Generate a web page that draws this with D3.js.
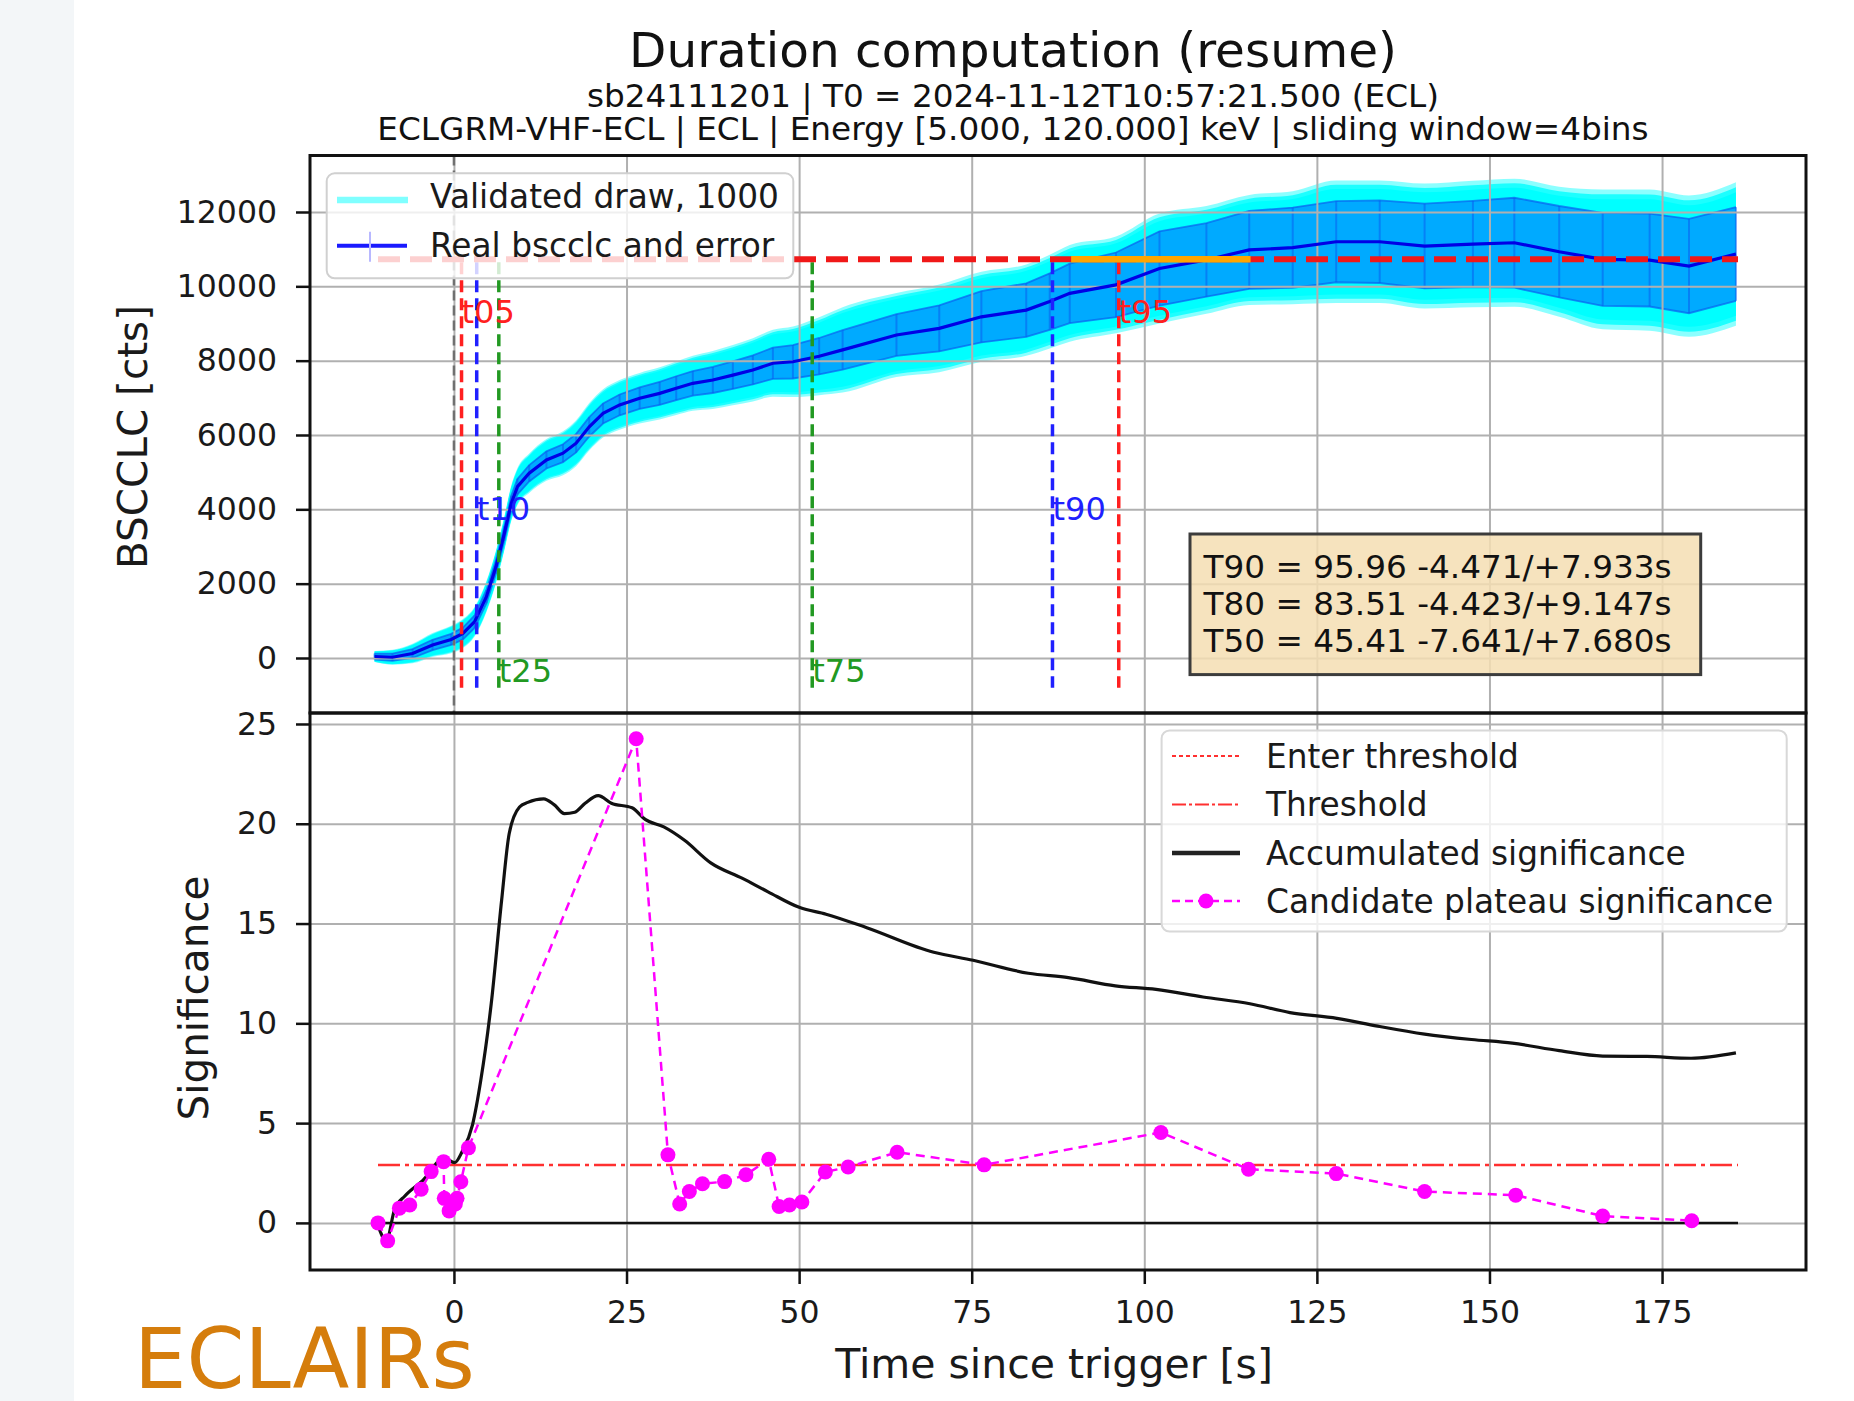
<!DOCTYPE html>
<html><head><meta charset="utf-8">
<script src="https://cdn.jsdelivr.net/npm/d3@7"></script>
<style>body{margin:0;background:#fff;} svg{display:block;} text{font-family:"DejaVu Sans",sans-serif;}</style>
</head><body><svg id="c" width="1854" height="1401"></svg>
<script>
// ---------------- DATA ----------------
const titleText = "Duration computation (resume)";
const subtitleLines = ["sb24111201 | T0 = 2024-11-12T10:57:21.500 (ECL)",
  "ECLGRM-VHF-ECL | ECL | Energy [5.000, 120.000] keV | sliding window=4bins"];
const xTicks = [0, 25, 50, 75, 100, 125, 150, 175];
const yTicksTop = [0, 2000, 4000, 6000, 8000, 10000, 12000];
const yTicksBottom = [0, 5, 10, 15, 20, 25];

// cumulative light curve (real bscclc), its error and spread of validated draws
const lcTime = [-11.5,-8.9,-6.0,-3.1,-0.4,1.3,3.0,4.7,6.1,7.3,8.3,9.2,10.9,13.4,15.8,17.7,19.6,21.6,24.0,26.9,
  29.8,32.2,34.6,37.5,40.4,43.3,46.2,49.1,52.9,56.3,64.1,70.3,76.4,82.9,86.3,89.2,95.9,102.2,109.0,115.2,
  121.5,127.8,134.1,140.6,147.6,153.6,160.1,166.4,173.2,178.9,185.7];
const lcCounts = [40,20,120,350,500,660,980,1650,2460,3350,4160,4610,4970,5330,5510,5780,6220,6580,6810,6990,
  7120,7260,7390,7480,7610,7750,7930,7970,8120,8290,8690,8870,9180,9360,9590,9810,10040,10480,10710,10980,
  11040,11200,11200,11084,11138,11173,10931,10726,10707,10546,10869];
const lcErr = [80,100,120,140,150,160,170,180,190,200,205,210,220,230,240,250,260,270,280,290,
  310,320,330,350,370,390,420,450,490,530,560,620,690,720,760,800,870,1000,990,1050,
  1080,1090,1110,1140,1160,1210,1230,1250,1250,1270,1260];
const drawSpread = [150,200,260,320,370,390,400,420,440,460,480,500,530,560,590,620,640,650,670,680,
  700,720,740,780,810,850,900,950,1050,1150,1130,1180,1210,1230,1260,1300,1300,1480,1450,1480,
  1520,1650,1650,1680,1700,1720,1750,1880,1900,1900,1930];

const plateauLevel = 10730;
const plateauRange = [89.4, 115.4];
const tNames = ["t05","t10","t25","t75","t90","t95"];
const tValues = [1.1, 3.3, 6.5, 51.9, 86.7, 96.3];
const tColors = ["#ff2020","#2020ff","#229922","#229922","#2020ff","#ff2020"];
const tLabelLevels = [9000, 3700, -640, -640, 3700, 9000];
const statLines = ["T90 = 95.96 -4.471/+7.933s","T80 = 83.51 -4.423/+9.147s","T50 = 45.41 -7.641/+7.680s"];

// accumulated significance
const sigTime = [-10.9,-9.8,-8.6,-7.1,-4.5,-1.4,0.1,1.2,2.7,3.9,5.4,6.9,8.0,9.5,10.7,13.0,14.5,16.0,17.5,19.0,
  20.9,22.8,25.8,27.7,30.4,33.4,37.2,41.8,45.5,50.1,53.9,59.8,69.5,75.2,83.2,89.0,95.8,101.7,108.5,115.3,
  121.1,127.9,133.8,140.6,147.4,153.3,160.1,166.4,172.8,179.2,185.7];
const sigValue = [-0.23,-0.9,0.67,1.35,2.13,3.25,3.02,3.58,4.93,7.17,10.98,16.14,19.5,20.84,21.07,21.25,20.96,20.51,20.58,21.03,
  21.41,21.03,20.8,20.22,19.84,19.17,18.04,17.26,16.59,15.8,15.47,14.79,13.56,13.16,12.51,12.29,11.88,11.7,11.32,10.98,
  10.54,10.25,9.86,9.46,9.19,9.01,8.63,8.36,8.34,8.25,8.52];
// candidate plateau significance
const candTime = [-11.0,-9.6,-7.9,-6.4,-4.75,-3.3,-1.5,-1.4,-0.7,0.2,0.45,1.0,2.1,26.4,31.0,32.7,34.1,36.0,39.2,42.3,
  45.6,47.1,48.6,50.4,53.8,57.1,64.2,76.8,102.4,115.1,127.8,140.6,153.8,166.4,179.3];
const candValue = [0.0,-0.9,0.74,0.9,1.69,2.57,3.07,1.23,0.6,0.95,1.23,2.06,3.76,24.26,3.41,0.95,1.57,1.96,2.07,2.41,
  3.19,0.82,0.9,1.05,2.55,2.8,3.54,2.91,4.53,2.69,2.47,1.57,1.39,0.34,0.11];
const thresholdLevel = 2.9;
const dataRange = [-11.0, 186.0];

const legendTop = ["Validated draw, 1000", "Real bscclc and error"];
const legendBottom = ["Enter threshold", "Threshold", "Accumulated significance", "Candidate plateau significance"];

// ---------------- LAYOUT ----------------
const W = 1854, H = 1401;
const L = 310, R = 1806, T1 = 155.5, B1 = 713, T2 = 713, B2 = 1270;
const x = d3.scaleLinear().domain([-20.85, 195.85]).range([L, R]);
const y1 = d3.scaleLinear().domain([-1480, 13520]).range([B1, T1]);
const y2 = d3.scaleLinear().domain([-2.36, 25.55]).range([B2, T2]);

const svg = d3.select("#c");
svg.append("rect").attr("width", W).attr("height", H).attr("fill", "#ffffff");
svg.append("rect").attr("width", 74).attr("height", H).attr("fill", "#f3f6f8");

const defs = svg.append("defs");
defs.append("clipPath").attr("id", "clip1").append("rect").attr("x", L).attr("y", T1).attr("width", R - L).attr("height", B1 - T1);
defs.append("clipPath").attr("id", "clip2").append("rect").attr("x", L).attr("y", T2).attr("width", R - L).attr("height", B2 - T2);

// titles
svg.append("text").attr("x", 1013).attr("y", 67).attr("text-anchor", "middle").attr("font-size", 48.5).attr("fill", "#111").text(titleText);
subtitleLines.forEach((s, i) => {
  svg.append("text").attr("x", 1013).attr("y", [106.5, 140][i]).attr("text-anchor", "middle").attr("font-size", 32.7).attr("fill", "#111").text(s);
});

// ---------------- TOP PANEL ----------------
const lc = lcTime.map((t, i) => ({t, v: lcCounts[i], e: lcErr[i], s: drawSpread[i]}));
const g1 = svg.append("g").attr("clip-path", "url(#clip1)");
const areaS = k => d3.area().x(d => x(d.t)).y0(d => y1(d.v - d.s * k)).y1(d => y1(d.v + d.s * k)).curve(d3.curveMonotoneX);
g1.append("path").datum(lc).attr("d", areaS(1.0)).attr("fill", "#00ffff").attr("opacity", 0.45);
g1.append("path").datum(lc).attr("d", areaS(0.93)).attr("fill", "#00ffff").attr("opacity", 0.8);
g1.append("path").datum(lc).attr("d", areaS(0.86)).attr("fill", "#00ffff");
g1.append("path").datum(lc).attr("d", d3.area().x(d => x(d.t)).y0(d => y1(d.v - d.e)).y1(d => y1(d.v + d.e)))
  .attr("fill", "#00aaff");
[1, -1].forEach(sg => {
  g1.append("path").datum(lc).attr("d", d3.line().x(d => x(d.t)).y(d => y1(d.v + sg * d.e)))
    .attr("fill", "none").attr("stroke", "#0a5ff0").attr("stroke-width", 1.8).attr("opacity", 0.7);
});
g1.selectAll("line.eb").data(lc).join("line").attr("class", "eb")
  .attr("x1", d => x(d.t)).attr("x2", d => x(d.t)).attr("y1", d => y1(d.v - d.e)).attr("y2", d => y1(d.v + d.e))
  .attr("stroke", "#0a5ff0").attr("stroke-width", 2).attr("opacity", 0.55);

// grid (top)
const grid1 = svg.append("g");
grid1.append("g").attr("transform", `translate(0,${B1})`).call(d3.axisBottom(x).tickValues(xTicks).tickSize(-(B1 - T1)).tickFormat(""));
grid1.append("g").attr("transform", `translate(${L},0)`).call(d3.axisLeft(y1).tickValues(yTicksTop).tickSize(-(R - L)).tickFormat(""));
grid1.selectAll(".domain").remove();
grid1.selectAll(".tick line").attr("stroke", "#b0b0b0").attr("stroke-width", 2);

const g1b = svg.append("g").attr("clip-path", "url(#clip1)");
// grey trigger line
g1b.append("line").attr("x1", x(0)).attr("x2", x(0)).attr("y1", T1).attr("y2", B1)
  .attr("stroke", "#707070").attr("stroke-width", 2.5).attr("stroke-dasharray", "10,5");
// blue real curve
g1b.append("path").datum(lc).attr("d", d3.line().x(d => x(d.t)).y(d => y1(d.v)))
  .attr("fill", "none").attr("stroke", "#0000e6").attr("stroke-width", 3.2);
// vertical t lines
tValues.forEach((tv, i) => {
  g1b.append("line").attr("x1", x(tv)).attr("x2", x(tv)).attr("y1", y1(10650)).attr("y2", y1(-800))
    .attr("stroke", tColors[i]).attr("stroke-width", 3.5).attr("stroke-dasharray", "12,6");
});
// plateau level
g1b.append("line").attr("x1", x(dataRange[0])).attr("x2", x(dataRange[1])).attr("y1", y1(plateauLevel)).attr("y2", y1(plateauLevel))
  .attr("stroke", "#f01818").attr("stroke-width", 6).attr("stroke-dasharray", "22,10");
g1b.append("line").attr("x1", x(plateauRange[0])).attr("x2", x(plateauRange[1])).attr("y1", y1(plateauLevel)).attr("y2", y1(plateauLevel))
  .attr("stroke", "#ffa500").attr("stroke-width", 6.5);
// t labels
tNames.forEach((n, i) => {
  g1b.append("text").attr("x", x(tValues[i])).attr("y", y1(tLabelLevels[i])).attr("font-size", 32)
    .attr("fill", tColors[i]).text(n);
});

// legend top
const lg1 = svg.append("g");
lg1.append("rect").attr("x", 326.7).attr("y", 173.3).attr("width", 466.6).attr("height", 105).attr("rx", 8)
  .attr("fill", "#ffffff").attr("fill-opacity", 0.8).attr("stroke", "#d0d0d0").attr("stroke-width", 2);
lg1.append("line").attr("x1", 337).attr("x2", 408).attr("y1", 200).attr("y2", 200).attr("stroke", "#80ffff").attr("stroke-width", 6.5);
lg1.append("line").attr("x1", 337).attr("x2", 407).attr("y1", 245.7).attr("y2", 245.7).attr("stroke", "#1a1aff").attr("stroke-width", 4);
lg1.append("line").attr("x1", 370).attr("x2", 370).attr("y1", 231.7).attr("y2", 261.7).attr("stroke", "#b8b8ff").attr("stroke-width", 2);
legendTop.forEach((s, i) => {
  lg1.append("text").attr("x", 430).attr("y", [207.5, 256.5][i]).attr("font-size", 32.8).attr("fill", "#1a1a1a").text(s);
});

// stat box
const sb = svg.append("g");
sb.append("rect").attr("x", 1190).attr("y", 534).attr("width", 510.7).attr("height", 140.6)
  .attr("fill", "#f5deb3").attr("fill-opacity", 0.85).attr("stroke", "#3c3c3c").attr("stroke-width", 3);
statLines.forEach((s, i) => {
  sb.append("text").attr("x", 1203.5).attr("y", [578.4, 615.2, 651.5][i]).attr("font-size", 32.7).attr("fill", "#111").text(s);
});

// ---------------- BOTTOM PANEL ----------------
const grid2 = svg.append("g");
grid2.append("g").attr("transform", `translate(0,${B2})`).call(d3.axisBottom(x).tickValues(xTicks).tickSize(-(B2 - T2)).tickFormat(""));
grid2.append("g").attr("transform", `translate(${L},0)`).call(d3.axisLeft(y2).tickValues(yTicksBottom).tickSize(-(R - L)).tickFormat(""));
grid2.selectAll(".domain").remove();
grid2.selectAll(".tick line").attr("stroke", "#b0b0b0").attr("stroke-width", 2);

const g2 = svg.append("g").attr("clip-path", "url(#clip2)");
g2.append("line").attr("x1", x(dataRange[0])).attr("x2", x(dataRange[1])).attr("y1", y2(0)).attr("y2", y2(0))
  .attr("stroke", "#111").attr("stroke-width", 2.5);
g2.append("line").attr("x1", x(dataRange[0])).attr("x2", x(dataRange[1])).attr("y1", y2(thresholdLevel)).attr("y2", y2(thresholdLevel))
  .attr("stroke", "#ff3030").attr("stroke-width", 2.5).attr("stroke-dasharray", "22,5,4,5");
const sig = sigTime.map((t, i) => ({t, v: sigValue[i]}));
g2.append("path").datum(sig).attr("d", d3.line().x(d => x(d.t)).y(d => y2(d.v)).curve(d3.curveMonotoneX))
  .attr("fill", "none").attr("stroke", "#111").attr("stroke-width", 3.2);
const cand = candTime.map((t, i) => ({t, v: candValue[i]}));
g2.append("path").datum(cand).attr("d", d3.line().x(d => x(d.t)).y(d => y2(d.v)))
  .attr("fill", "none").attr("stroke", "#ff00ff").attr("stroke-width", 2.5).attr("stroke-dasharray", "9,6");
g2.selectAll("circle").data(cand).join("circle").attr("cx", d => x(d.t)).attr("cy", d => y2(d.v)).attr("r", 7.5).attr("fill", "#ff00ff");

// legend bottom
const lg2 = svg.append("g");
lg2.append("rect").attr("x", 1161.6).attr("y", 730.4).attr("width", 625.1).attr("height", 201.2).attr("rx", 8)
  .attr("fill", "#ffffff").attr("fill-opacity", 0.8).attr("stroke", "#d8d8d8").attr("stroke-width", 2);
const hy = [756, 804.5, 853, 901];
lg2.append("line").attr("x1", 1172).attr("x2", 1240).attr("y1", hy[0]).attr("y2", hy[0]).attr("stroke", "#ff3030").attr("stroke-width", 2.2).attr("stroke-dasharray", "4,3");
lg2.append("line").attr("x1", 1172).attr("x2", 1240).attr("y1", hy[1]).attr("y2", hy[1]).attr("stroke", "#ff3030").attr("stroke-width", 2.2).attr("stroke-dasharray", "14,3,3,3");
lg2.append("line").attr("x1", 1172).attr("x2", 1240).attr("y1", hy[2]).attr("y2", hy[2]).attr("stroke", "#222").attr("stroke-width", 4.5);
lg2.append("line").attr("x1", 1172).attr("x2", 1240).attr("y1", hy[3]).attr("y2", hy[3]).attr("stroke", "#ff00ff").attr("stroke-width", 2.5).attr("stroke-dasharray", "8,5");
lg2.append("circle").attr("cx", 1206).attr("cy", hy[3]).attr("r", 7.5).attr("fill", "#ff00ff");
legendBottom.forEach((s, i) => {
  lg2.append("text").attr("x", 1266).attr("y", hy[i] + 11.5).attr("font-size", 32.8).attr("fill", "#1a1a1a").text(s);
});

// ---------------- AXES ----------------
function styleAxis(g) {
  g.select(".domain").remove();
  g.selectAll(".tick line").attr("stroke", "#111").attr("stroke-width", 2.5);
  g.selectAll(".tick text").attr("font-size", 31.5).attr("fill", "#1a1a1a").attr("font-family", "DejaVu Sans");
}
svg.append("g").attr("transform", `translate(${L},0)`).call(d3.axisLeft(y1).tickValues(yTicksTop).tickSize(14).tickPadding(19).tickFormat(d3.format("d"))).call(styleAxis);
svg.append("g").attr("transform", `translate(${L},0)`).call(d3.axisLeft(y2).tickValues(yTicksBottom).tickSize(14).tickPadding(19).tickFormat(d3.format("d"))).call(styleAxis);
svg.append("g").attr("transform", `translate(0,${B2})`).call(d3.axisBottom(x).tickValues(xTicks).tickSize(14).tickPadding(17).tickFormat(d3.format("d"))).call(styleAxis);

// spines
[[T1, B1], [T2, B2]].forEach(([a, b]) => {
  svg.append("rect").attr("x", L).attr("y", a).attr("width", R - L).attr("height", b - a)
    .attr("fill", "none").attr("stroke", "#111").attr("stroke-width", 3);
});

// axis labels
svg.append("text").attr("transform", "translate(146.5,437) rotate(-90)").attr("text-anchor", "middle").attr("font-size", 40.5).attr("fill", "#1a1a1a").text("BSCCLC [cts]");
svg.append("text").attr("transform", "translate(207.5,998) rotate(-90)").attr("text-anchor", "middle").attr("font-size", 40.5).attr("fill", "#1a1a1a").text("Significance");
svg.append("text").attr("x", 1054).attr("y", 1378).attr("text-anchor", "middle").attr("font-size", 41).attr("fill", "#1a1a1a").text("Time since trigger [s]");

// brand text
svg.append("text").attr("x", 134).attr("y", 1388).attr("font-family", "Liberation Sans, Arial, sans-serif").attr("font-size", 83)
  .attr("fill", "#d57d0c").text("ECLAIRs");
</script></body></html>
